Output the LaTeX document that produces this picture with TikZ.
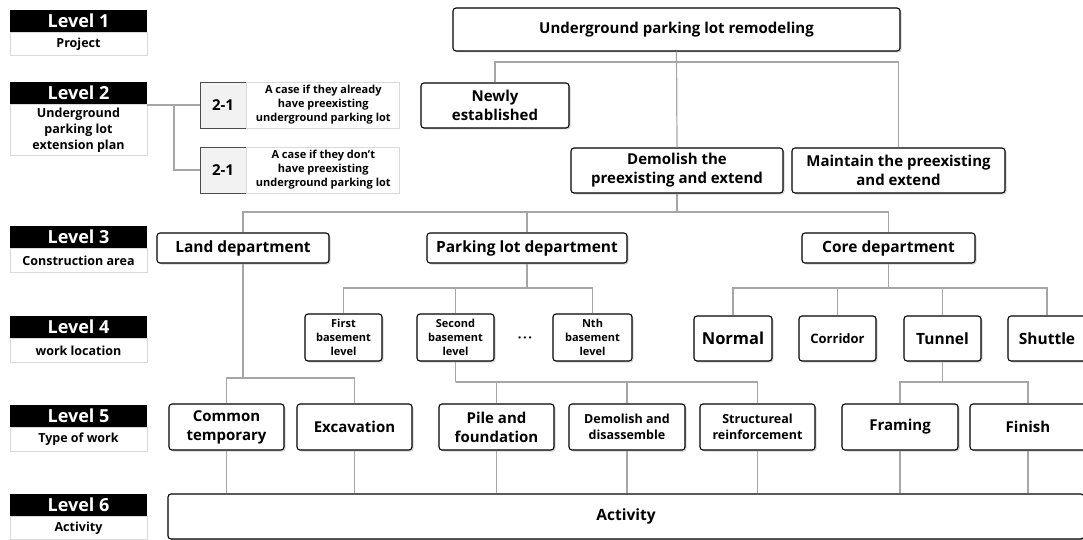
\documentclass[tikz,border=0pt]{standalone}
\usepackage{fontspec}
\setmainfont{Open Sans}
\usetikzlibrary{positioning,shadows}
\definecolor{linkgray}{HTML}{A6A6A6}
\definecolor{framegray}{HTML}{D9D9D9}
\definecolor{numgray}{HTML}{F2F2F2}
\newcommand{\fs}[2]{\fontsize{#1}{#2}\selectfont\bfseries}
\tikzset{
  box/.style={draw=black, line width=1.1pt, rounded corners=3pt, fill=white, align=center, inner sep=0pt,
    drop shadow={shadow xshift=1.5pt, shadow yshift=-1.5pt, opacity=0.35}},
  lvlbar/.style={fill=black, text=white, minimum width=137, minimum height=22, inner sep=0pt, font=\fs{18}{20}},
  lvltext/.style={draw=framegray, line width=0.8pt, minimum width=137, inner sep=0pt, align=center, font=\fs{12.5}{16}},
  numbox/.style={draw=black!70, line width=0.8pt, fill=numgray, minimum width=46, minimum height=46, inner sep=0pt, font=\fs{15}{18}},
  casebox/.style={draw=framegray, line width=0.8pt, minimum width=153, minimum height=46, inner sep=0pt, align=center, font=\fs{11}{14}},
  link/.style={draw=linkgray, line width=1.2pt}
}
\begin{document}
\begin{tikzpicture}[x=1pt, y=-1pt]
\useasboundingbox (0,0) rectangle (1083,540);

% level captions
\node[lvlbar] (l1) at (78.5,21) {Level 1};
\node[lvltext, below=0pt of l1, minimum height=23] (l1t) {Project};
\node[lvlbar] (l2) at (78.5,93) {Level 2};
\node[lvltext, below=0pt of l2, minimum height=51] (l2t) {Underground\\parking lot\\extension plan};
\node[lvlbar] (l3) at (78.5,237) {Level 3};
\node[lvltext, below=0pt of l3, minimum height=24] (l3t) {Construction area};
\node[lvlbar] (l4) at (78.5,327) {Level 4};
\node[lvltext, below=0pt of l4, minimum height=24] (l4t) {work location};
\node[lvlbar] (l5) at (78.5,416) {Level 5};
\node[lvltext, below=0pt of l5, minimum height=24] (l5t) {Type of work};
\node[lvlbar] (l6) at (78.5,505) {Level 6};
\node[lvltext, below=0pt of l6, minimum height=23] (l6t) {Activity};

% level 2 cases
\node[numbox] (c1n) at (223,105) {2-1};
\node[casebox, right=0pt of c1n] (c1t) {A case if they already\\have preexisting\\underground parking lot};
\node[numbox] (c2n) at (223,170) {2-1};
\node[casebox, right=0pt of c2n] (c2t) {A case if they don't\\have preexisting\\underground parking lot};
\coordinate (j2) at (174,105);
\draw[link] (l2t.east |- j2) -- (c1n.west);
\draw[link] (j2) |- (c2n.west);

% level 1 and 2
\node[box, minimum width=447, minimum height=43, font=\fs{15}{19}] (main) at (676.5,29.5) {Underground parking lot remodeling};
\node[box, minimum width=148, minimum height=45, font=\fs{15}{19}] (newly) at (495,105.5) {Newly\\established};
\node[box, minimum width=212, minimum height=45, font=\fs{15}{19}] (demol) at (677,170.5) {Demolish the\\preexisting and extend};
\node[box, minimum width=213, minimum height=45, font=\fs{15}{19}] (maint) at (898.5,170.5) {Maintain the preexisting\\and extend};

% level 3
\node[box, minimum width=172, minimum height=30, font=\fs{15.5}{18}] (land) at (243,248) {Land department};
\node[box, minimum width=200, minimum height=30, font=\fs{15.5}{18}] (park) at (527,248) {Parking lot department};
\node[box, minimum width=173, minimum height=30, font=\fs{15.5}{18}] (core) at (888.5,248) {Core department};

% level 4
\node[box, minimum width=77, minimum height=47, font=\fs{11}{14}] (first) at (343.5,337.5) {First\\basement\\level};
\node[box, minimum width=77, minimum height=47, font=\fs{11}{14}] (second) at (455.5,337.5) {Second\\basement\\level};
\node[font=\fs{13}{14}] (dots) at (525,340) {·\kern1.5pt·\kern1.5pt·};
\node[box, minimum width=79, minimum height=47, font=\fs{11}{14}] (nth) at (592.5,337.5) {Nth\\basement\\level};
\node[box, minimum width=78, minimum height=45, font=\fs{16.5}{19}] (normal) at (733,338.5) {Normal};
\node[box, minimum width=77, minimum height=45, font=\fs{13}{16}] (corridor) at (837.5,338.5) {Corridor};
\node[box, minimum width=77, minimum height=45, font=\fs{15.5}{18}] (tunnel) at (942.5,338.5) {Tunnel};
\node[box, minimum width=78, minimum height=45, font=\fs{15.5}{18}] (shuttle) at (1047,338.5) {Shuttle};

% level 5
\node[box, minimum width=115, minimum height=46, font=\fs{15}{19}] (common) at (226.5,427) {Common\\temporary};
\node[box, minimum width=115, minimum height=46, font=\fs{15}{19}] (excav) at (354.5,427) {Excavation};
\node[box, minimum width=115, minimum height=46, font=\fs{15}{19}] (pile) at (496.5,427) {Pile and\\foundation};
\node[box, minimum width=116, minimum height=46, font=\fs{12.5}{16}] (demdis) at (627,427) {Demolish and\\disassemble};
\node[box, minimum width=115, minimum height=46, font=\fs{12.5}{16}] (struct) at (757.5,427) {Structureal\\reinforcement};
\node[box, minimum width=116, minimum height=46, font=\fs{15}{19}] (framing) at (900,427) {Framing};
\node[box, minimum width=116, minimum height=46, font=\fs{15}{19}] (finish) at (1028,427) {Finish};

% level 6
\node[box, minimum width=916, minimum height=45, font=\fs{15.5}{18}] (activity) at (626,516.5) {Activity};

% tree links
\coordinate (b1) at (677,62);
\coordinate (b2) at (677,212);
\coordinate (b3) at (527,288);
\coordinate (b4) at (888.5,288);
\coordinate (b5) at (243,378);
\coordinate (b6) at (455.5,382);
\coordinate (b7) at (942.5,382);
\draw[link] (main.south) -- (demol.north);
\draw[link] (newly.north) |- (b1) -| (maint.north);
\draw[link] (demol.south) -- (b2);
\draw[link] (land.north) |- (b2) -| (core.north);
\draw[link] (park.north) -- (park.north |- b2);
\draw[link] (park.south) -- (b3);
\draw[link] (first.north) |- (b3) -| (nth.north);
\draw[link] (second.north) -- (second.north |- b3);
\draw[link] (core.south) -- (b4);
\draw[link] (normal.north) |- (b4) -| (shuttle.north);
\draw[link] (corridor.north) -- (corridor.north |- b4);
\draw[link] (tunnel.north) -- (tunnel.north |- b4);
\draw[link] (land.south) -- (b5);
\draw[link] (common.north) |- (b5) -| (excav.north);
\draw[link] (second.south) -- (b6);
\draw[link] (pile.north) |- (b6) -| (struct.north);
\draw[link] (demdis.north) -- (demdis.north |- b6);
\draw[link] (tunnel.south) -- (b7);
\draw[link] (framing.north) |- (b7) -| (finish.north);
\foreach \n in {common,excav,pile,demdis,struct,framing,finish}
  \draw[link] (\n.south) -- (\n.south |- activity.north);
\end{tikzpicture}
\end{document}
